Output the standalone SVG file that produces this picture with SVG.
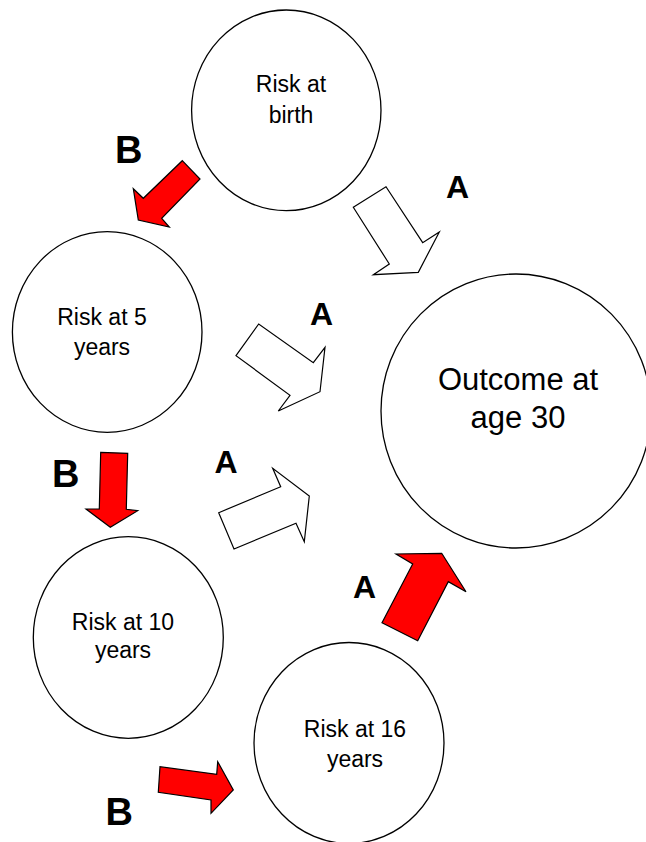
<svg xmlns="http://www.w3.org/2000/svg" width="646" height="842" viewBox="0 0 646 842">
<style>
.node{fill:#fff;stroke:#000;stroke-width:1.3}
.t{font-family:"Liberation Sans",Arial,sans-serif;font-size:23px;fill:#000;text-anchor:middle}
.tb{font-family:"Liberation Sans",Arial,sans-serif;font-size:31px;fill:#000;text-anchor:middle}
.lbl{font-family:"Liberation Sans",Arial,sans-serif;font-weight:bold;fill:#000}
.la{font-size:32px}
.lb{font-size:38px}
.red{fill:#ff0000;stroke:#000;stroke-width:1.2;stroke-linejoin:miter}
.white{fill:#fff;stroke:#000;stroke-width:1.2;stroke-linejoin:miter}
</style>
<rect width="646" height="842" fill="#fff"/>
<g id="birth">
<ellipse class="node" cx="286.3" cy="110.3" rx="94.7" ry="100.3"/>
<text class="t" x="291" y="92">Risk at</text>
<text class="t" x="291" y="123">birth</text>
</g>
<g id="age5">
<ellipse class="node" cx="107.2" cy="332" rx="94.8" ry="100.3"/>
<text class="t" x="102" y="325">Risk at 5</text>
<text class="t" x="102" y="355">years</text>
</g>
<g id="outcome">
<ellipse class="node" cx="516" cy="411" rx="135" ry="137"/>
<text class="tb" x="518" y="390">Outcome at</text>
<text class="tb" x="518" y="428">age 30</text>
</g>
<g id="age10">
<ellipse class="node" cx="128.3" cy="637.5" rx="95" ry="100.8"/>
<text class="t" x="123" y="630">Risk at 10</text>
<text class="t" x="123" y="658">years</text>
</g>
<g id="age16">
<ellipse class="node" cx="349" cy="743" rx="95" ry="100.5"/>
<text class="t" x="355" y="737">Risk at 16</text>
<text class="t" x="355" y="767">years</text>
</g>
<g id="connectors">
<polygon class="red" points="182.3,160.7 200,179 161.7,218.3 169.3,227 138.3,220 133.3,188.7 143.3,198.3"/>
<polygon class="white" points="353.3,207.3 386,186.7 422.7,242.7 439.3,232 418.3,272.3 373.3,274.7 389.3,264"/>
<polygon class="white" points="236,355.7 258.7,324 313.3,362.7 325,347.3 320,391.7 278.3,411 290,395.3"/>
<polygon class="white" points="218.7,512.7 234,549 296,523.3 304.3,541.7 309.3,496 272.7,468.3 280.7,486.7"/>
<polygon class="red" points="100.7,452.3 127.7,453.3 126.3,509.3 137.7,510.7 110.3,527.3 86,509 99.3,509"/>
<polygon class="red" points="382,622.7 417.7,640.7 448.3,581.7 466,591.7 441.7,553.3 396,554 412.7,564"/>
<polygon class="red" points="160,766.7 158.3,792.3 211,800 211,813.3 233.3,790 217.7,761.7 216.7,774.3"/>
</g>
<g id="labels">
<text class="lbl lb" x="115" y="163">B</text>
<text class="lbl la" x="446" y="198">A</text>
<text class="lbl la" x="310" y="325">A</text>
<text class="lbl la" x="214.5" y="473">A</text>
<text class="lbl lb" x="52" y="487">B</text>
<text class="lbl la" x="353" y="598">A</text>
<text class="lbl lb" x="105.5" y="825">B</text>
</g>
</svg>
